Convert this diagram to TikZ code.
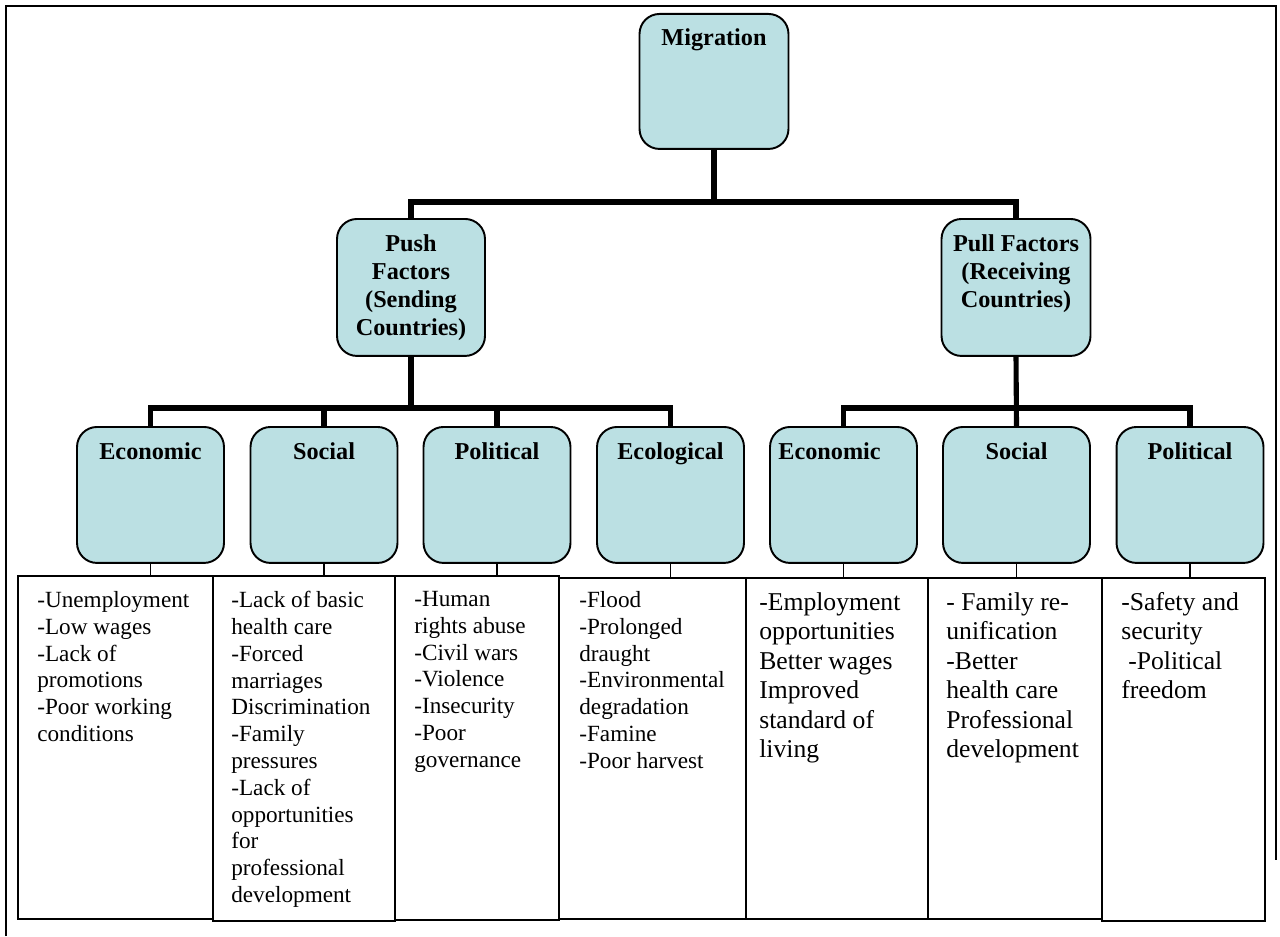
\documentclass[tikz,border=0pt]{standalone}
\usepackage{fontspec}
\setmainfont{Liberation Serif}
\usepackage{tikz}
\usetikzlibrary{positioning}

\definecolor{boxfill}{RGB}{187,224,227}
\newcommand{\lblfont}{\fontsize{13.8}{15.9}\selectfont\bfseries}
\newcommand{\pushfont}{\fontsize{13.2}{15.25}\selectfont}
\newcommand{\pullfont}{\fontsize{14.6}{16.8}\selectfont}
\newcommand{\boxlbl}[1]{\parbox[c][2.1cm][t]{2.8cm}{\centering #1}}

\tikzset{
  fbox/.style={draw, line width=1.1pt, rounded corners=0.4cm, fill=boxfill,
    minimum width=2.94cm, minimum height=2.72cm, inner sep=0pt,
    anchor=north, font=\lblfont},
  bar/.style={line width=2.9pt},
  thinlink/.style={line width=0.8pt},
  tcol/.style={draw, line width=1.1pt, anchor=north west, inner sep=0pt},
  ttext/.style={anchor=north west, align=left, inner sep=0pt},
  frame/.style={line width=1.2pt}
}

\begin{document}
\begin{tikzpicture}[x=0.02cm, y=-0.02cm]
  \useasboundingbox (0,0) rectangle (1280,936);
  % outer frame
  \draw[frame] (6,936) -- (6,6) -- (1276,6) -- (1276,860);

  % top level
  \node[fbox, minimum width=2.98cm, minimum height=2.7cm] (migration) at (714,13) {\boxlbl{Migration}};
  \node[fbox, minimum width=2.96cm, minimum height=2.74cm] (push) at (411,218) {\boxlbl{Push\\Factors\\(Sending\\Countries)}};
  \node[fbox, minimum width=2.98cm, minimum height=2.74cm] (pull) at (1016,218) {\boxlbl{Pull Factors\\(Receiving\\Countries)}};
  \coordinate (topbar) at (714,202);
  \draw[bar] (migration.south) -- (migration.south |- topbar);
  \draw[bar] (push.north) |- (topbar) -| (pull.north);

  % push factors
  \node[fbox] (pushEco) at (150.5,426) {\boxlbl{Economic}};
  \node[fbox] (pushSoc) at (324,426) {\boxlbl{Social}};
  \node[fbox] (pushPol) at (497,426) {\boxlbl{Political}};
  \node[fbox] (pushEcl) at (670.5,426) {\boxlbl{Ecological}};
  \coordinate (pushbar) at (411,408);
  \draw[bar] (push.south) -- (push.south |- pushbar);
  \draw[bar] (pushEco.north) |- (pushbar) -| (pushEcl.north);
  \draw[bar] (pushSoc.north) -- (pushSoc.north |- pushbar);
  \draw[bar] (pushPol.north) -- (pushPol.north |- pushbar);

  % pull factors
  \node[fbox] (pullEco) at (843.5,426) {\boxlbl{\hspace*{-0.56cm}Economic}};
  \node[fbox] (pullSoc) at (1016.5,426) {\boxlbl{Social}};
  \node[fbox] (pullPol) at (1190,426) {\boxlbl{Political}};
  \coordinate (pullbar) at (1016,408);
  \draw[bar] (pull.south) -- (pullSoc.north);
  \draw[bar] (pullEco.north) |- (pullbar) -| (pullPol.north);

  % table columns
  \node[tcol, minimum width=3.9cm, minimum height=6.86cm] (c1) at (17,575) {};
  \node[tcol, minimum width=3.64cm, minimum height=6.9cm] (c2) at (212,575) {};
  \node[tcol, minimum width=3.28cm, minimum height=6.88cm] (c3) at (394,575) {};
  \node[tcol, minimum width=3.74cm, minimum height=6.82cm] (c4) at (558,577) {};
  \node[tcol, minimum width=3.64cm, minimum height=6.82cm] (c5) at (745,577) {};
  \node[tcol, minimum width=3.48cm, minimum height=6.82cm] (c6) at (927,577) {};
  \node[tcol, minimum width=3.26cm, minimum height=6.86cm] (c7) at (1101,577) {};

  \draw[thinlink] (pushEco.south) -- (pushEco.south |- c1.north);
  \draw[thinlink] (pushSoc.south) -- (pushSoc.south |- c2.north);
  \draw[thinlink] (pushPol.south) -- (pushPol.south |- c3.north);
  \draw[thinlink] (pushEcl.south) -- (pushEcl.south |- c4.north);
  \draw[thinlink] (pullEco.south) -- (pullEco.south |- c5.north);
  \draw[thinlink] (pullSoc.south) -- (pullSoc.south |- c6.north);
  \draw[thinlink] (pullPol.south) -- (pullPol.south |- c7.north);

  % column texts
  \node[ttext, font=\pushfont] (t1) at ([shift={(20,16)}]c1.north west)
    {-Unemployment\\-Low wages\\-Lack of\\promotions\\-Poor working\\conditions};
  \node[ttext, font=\pushfont] (t2) at ([shift={(19,16)}]c2.north west)
    {-Lack of basic\\health care\\-Forced\\marriages\\Discrimination\\-Family\\pressures\\-Lack of\\opportunities\\for\\professional\\development};
  \node[ttext, font=\pushfont] (t3) at ([shift={(20,16)}]c3.north west)
    {-Human\\rights abuse\\-Civil wars\\-Violence\\-Insecurity\\-Poor\\governance};
  \node[ttext, font=\pushfont] (t4) at ([shift={(21,14)}]c4.north west)
    {-Flood\\-Prolonged\\draught\\-Environmental\\degradation\\-Famine\\-Poor harvest};
  \node[ttext, font=\pullfont] (t5) at ([shift={(14,15)}]c5.north west)
    {-Employment\\opportunities\\Better wages\\Improved\\standard of\\living};
  \node[ttext, font=\pullfont] (t6) at ([shift={(19,15)}]c6.north west)
    {- Family re-\\unification\\-Better\\health care\\Professional\\development};
  \node[ttext, font=\pullfont] (t7) at ([shift={(20,15)}]c7.north west)
    {-Safety and\\security\\\hspace*{0.27em}-Political\\freedom};
\end{tikzpicture}
\end{document}
